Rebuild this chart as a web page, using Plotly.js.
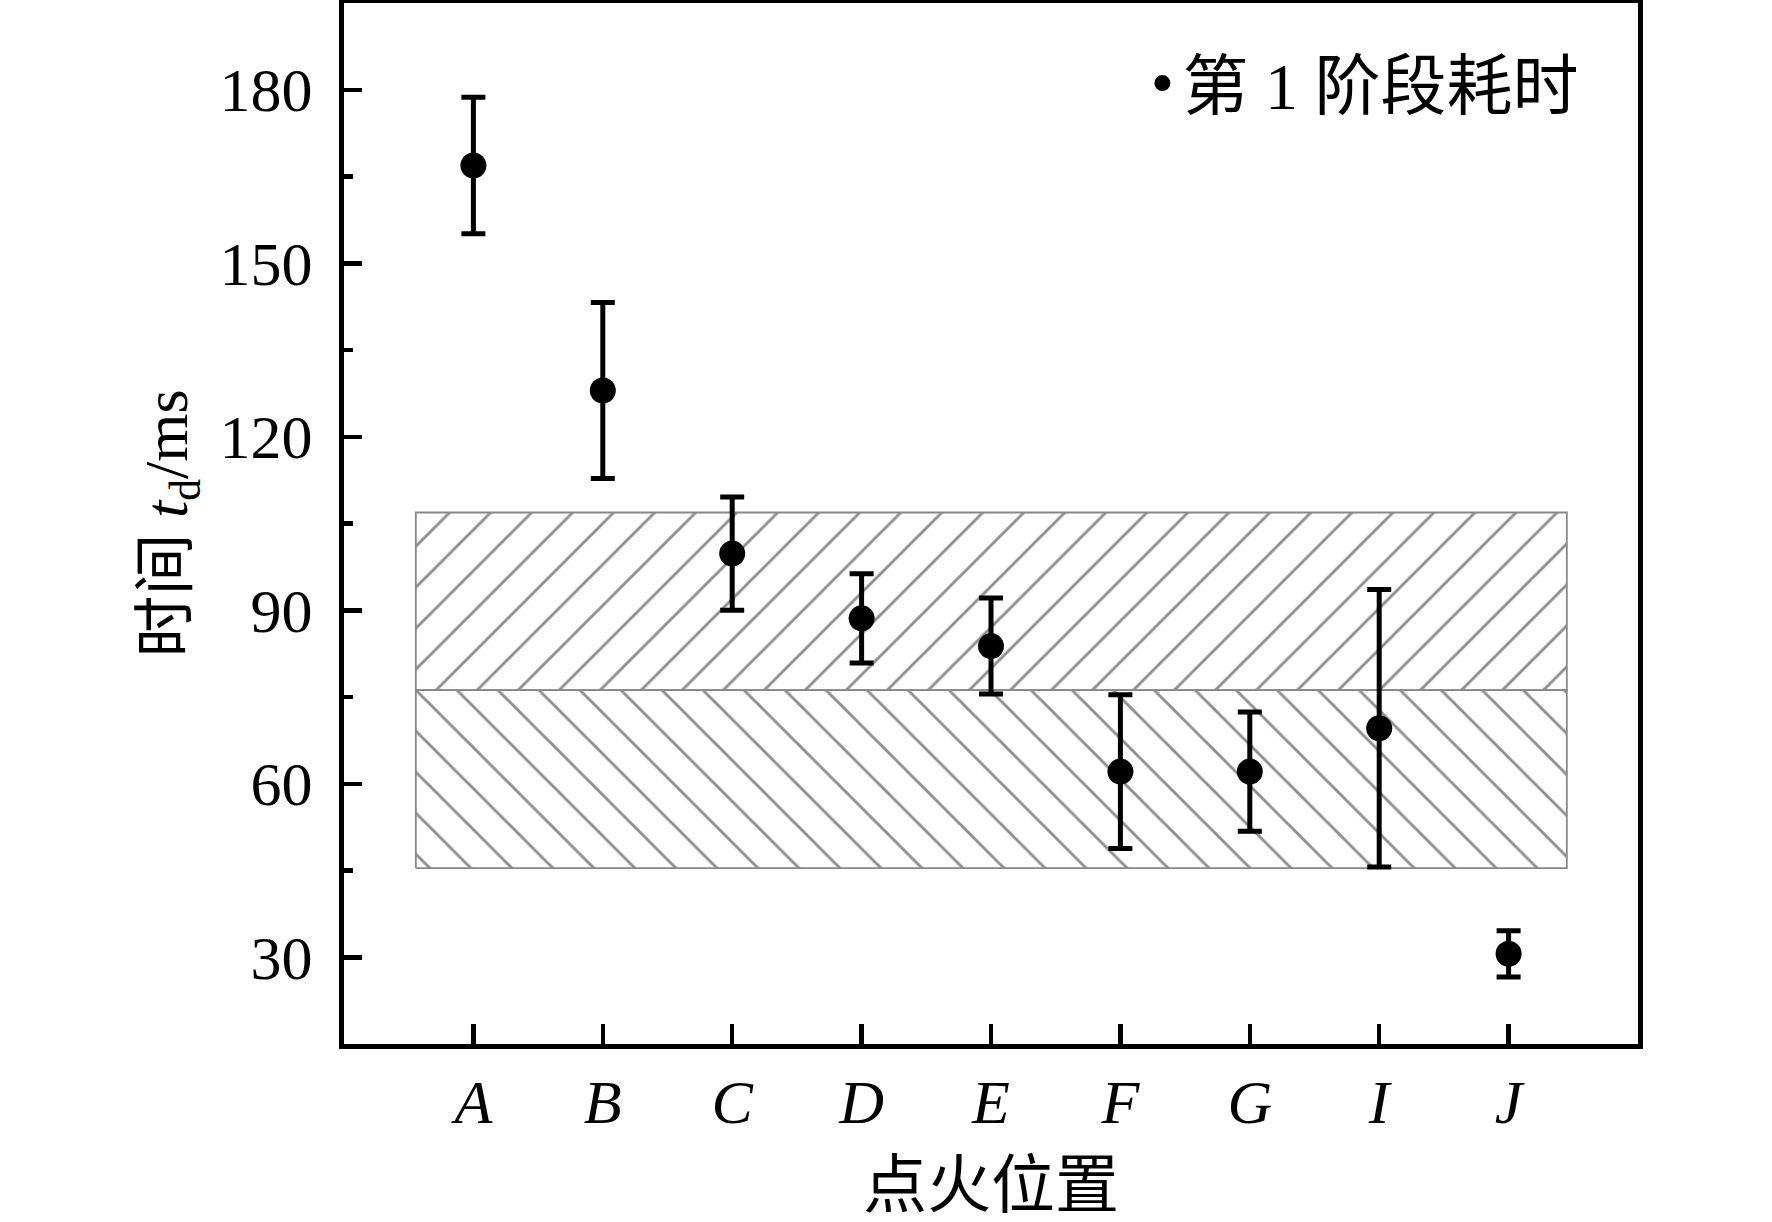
<!DOCTYPE html>
<html>
<head>
<meta charset="utf-8">
<script src="https://cdn.plot.ly/plotly-3.0.1.min.js"></script>
<style>
  html, body { margin: 0; padding: 0; background: #fff; }
  #chart { width: 1772px; height: 1222px; }
</style>
</head>
<body>
<div id="chart"></div>
<script>
// ignition positions and stage-1 duration (ms)
const positions = ['A', 'B', 'C', 'D', 'E', 'F', 'G', 'I', 'J'];
const stageTime = [166.9, 128.0, 99.8, 88.6, 83.8, 62.1, 62.1, 69.6, 30.6];
const stageErr = [11.8, 15.2, 9.8, 7.7, 8.3, 13.3, 10.3, 24.0, 4.0];

// hatched reference band: lower edge, middle line, upper edge
const bandLevels = [45.4, 76.2, 106.9];
const bandSpan = [-0.445, 8.45];

const yTicks = [30, 60, 90, 120, 150, 180];

const serif = "'Liberation Serif', 'Noto Sans CJK SC', serif";
const xIdx = positions.map((p, i) => i);

function bandTrace(lo, hi, shape) {
  return {
    x: [bandSpan[0], bandSpan[1], bandSpan[1], bandSpan[0], bandSpan[0]],
    y: [lo, lo, hi, hi, lo],
    mode: 'lines',
    fill: 'toself',
    fillcolor: 'white',
    fillpattern: { shape: shape, size: 29, solidity: 0.1, fgcolor: '#8f8f8f', bgcolor: 'white' },
    line: { color: '#888888', width: 1.8 },
    showlegend: false,
    hoverinfo: 'skip'
  };
}

const traces = [
  bandTrace(bandLevels[1], bandLevels[2], '/'),
  bandTrace(bandLevels[0], bandLevels[1], '\\'),
  {
    x: xIdx,
    y: stageTime,
    mode: 'markers',
    name: '第 1 阶段耗时',
    marker: { color: 'black', size: 26 },
    error_y: { type: 'data', array: stageErr, visible: true, color: 'black', thickness: 5, width: 12 }
  }
];

const layout = {
  width: 1772,
  height: 1222,
  margin: { l: 344, r: 134, t: 3, b: 178 },
  paper_bgcolor: 'white',
  plot_bgcolor: 'white',
  font: { family: serif, size: 62, color: 'black' },
  showlegend: true,
  legend: {
    x: 0.617, y: 0.923, xanchor: 'left', yanchor: 'middle',
    bgcolor: 'rgba(0,0,0,0)',
    font: { family: serif, size: 66 }
  },
  xaxis: {
    range: [-1, 9],
    tickvals: xIdx,
    ticktext: positions.map(p => '<i>' + p + '</i>'),
    ticks: 'inside', ticklen: 20, tickwidth: 4.5, tickcolor: 'black',
    showline: true, linewidth: 5, linecolor: 'black', mirror: true,
    showgrid: false, zeroline: false,
    ticklabelstandoff: 0,
    tickfont: { family: serif, size: 62 },
    title: { text: '点火位置', font: { family: serif, size: 64 }, standoff: 28 }
  },
  yaxis: {
    range: [15, 195],
    tickvals: yTicks,
    ticks: 'inside', ticklen: 18, tickwidth: 4.5, tickcolor: 'black',
    minor: { dtick: 15, tick0: 15, ticks: 'inside', ticklen: 9, tickwidth: 4.5, tickcolor: 'black', showgrid: false },
    showline: true, linewidth: 5, linecolor: 'black', mirror: true,
    showgrid: false, zeroline: false,
    ticklabelstandoff: 14,
    tickfont: { family: serif, size: 62 },
    title: { text: '时间 <i>t</i><sub>d</sub>/ms', font: { family: serif, size: 62 }, standoff: 13 }
  }
};

Plotly.newPlot('chart', traces, layout, { displayModeBar: false, staticPlot: true });
</script>
</body>
</html>
